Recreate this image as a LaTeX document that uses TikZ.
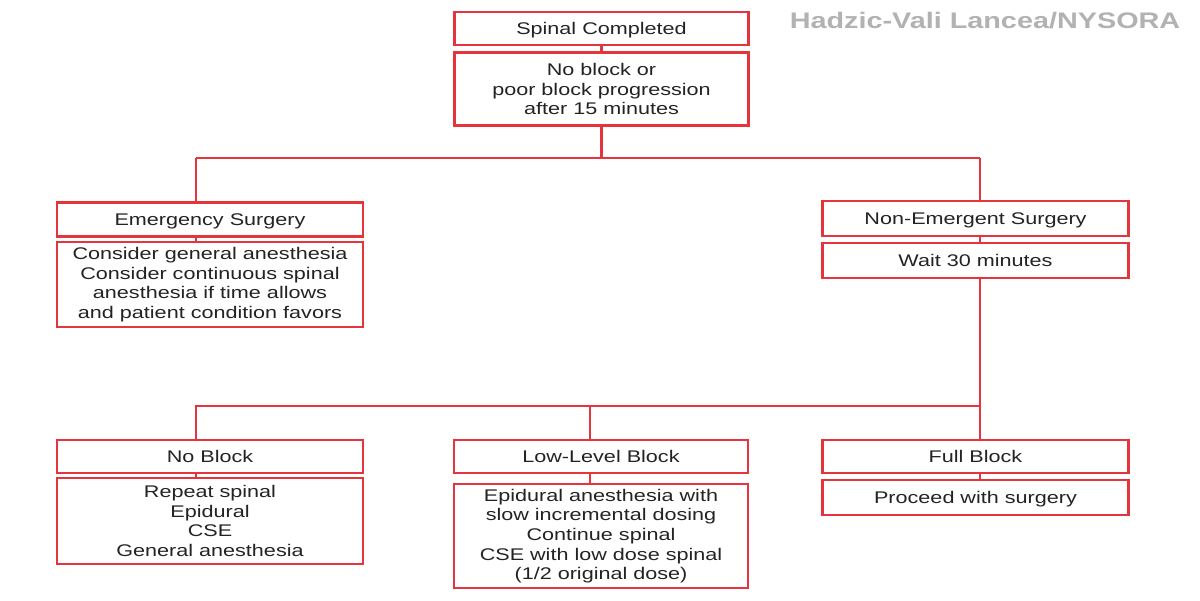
\documentclass[tikz,border=0pt]{standalone}
\usepackage{fontspec}
\setmainfont{Liberation Sans}[FakeStretch=1.28]
\definecolor{boxred}{RGB}{230,52,60}
\definecolor{inkgray}{RGB}{35,35,35}
\tikzset{box/.style={draw=boxred, line width=1.6pt, align=center, inner sep=0pt, text=inkgray, font=\fontsize{12}{14}\selectfont}}
\tikzset{head/.style={box, text depth=0pt}}
\tikzset{wide/.style={minimum width=7.65cm}}
\tikzset{mid/.style={minimum width=7.35cm}}
\tikzset{link/.style={draw=boxred, line width=1.6pt}}

\begin{document}
\begin{tikzpicture}[x=0.025cm,y=-0.025cm]
        \useasboundingbox (0,0) rectangle (1200,600);
        % columns and bars of the tree
        \coordinate (lcol) at (196,0);
        \coordinate (mcol) at (590,0);
        \coordinate (rcol) at (980,0);
        \coordinate (bar1) at (0,158);
        \coordinate (bar2) at (0,406);
        \node[font=\bfseries\fontsize{16}{16}\selectfont, text=black!30] (credit) at (985,21) {Hadzic-Vali Lancea/NYSORA};
        % top
        \node[head, mid, minimum height=0.825cm] (start) at (601.5,28.5) {Spinal Completed};
        \node[box, mid, minimum height=1.825cm] (cond) at (601.5,89) {No block or\\poor block progression\\after 15 minutes};
        % second level
        \node[head, wide, minimum height=0.85cm] (emerg) at (210,219.5) {Emergency Surgery};
        \node[box, wide, minimum height=2.125cm] (emergtxt) at (210,284.5) {Consider general anesthesia\\Consider continuous spinal\\anesthesia if time allows\\and patient condition favors};
        \node[head, wide, minimum height=0.875cm] (nonem) at (975.5,218.5) {Non-Emergent Surgery};
        \node[head, wide, minimum height=0.875cm] (wait) at (975.5,260.5) {Wait 30 minutes};
        % third level
        \node[head, wide, minimum height=0.825cm] (noblk) at (210,456.5) {No Block};
        \node[box, wide, minimum height=2.15cm] (noblktxt) at (210,521) {Repeat spinal\\Epidural\\CSE\\General anesthesia};
        \node[head, mid, minimum height=0.825cm] (lowblk) at (601,456.5) {Low-Level Block};
        \node[box, mid, minimum height=2.6cm] (lowblktxt) at (601,536) {Epidural anesthesia with\\slow incremental dosing\\Continue spinal\\CSE with low dose spinal\\(1/2 original dose)};
        \node[head, wide, minimum height=0.825cm] (fullblk) at (975.5,456.5) {Full Block};
        \node[head, wide, minimum height=0.875cm] (fullblktxt) at (975.5,497.5) {Proceed with surgery};
        % connectors
        \draw[link] (start) -- (cond);
        \draw[link] (cond.south) -- (cond.south |- bar1);
        \draw[link] (bar1 -| lcol) -- (bar1 -| rcol);
        \draw[link] (bar1 -| lcol) -- (emerg.north -| lcol);
        \draw[link] (bar1 -| rcol) -- (nonem.north -| rcol);
        \draw[link] (wait.south -| rcol) -- (bar2 -| rcol) -- (bar2 -| lcol) -- (noblk.north -| lcol);
        \draw[link] (bar2 -| mcol) -- (lowblk.north -| mcol);
        \draw[link] (bar2 -| rcol) -- (fullblk.north -| rcol);
        \foreach \hd/\bd/\col in {emerg/emergtxt/lcol, nonem/wait/rcol, noblk/noblktxt/lcol, lowblk/lowblktxt/mcol, fullblk/fullblktxt/rcol}
          \draw[link] (\hd.south -| \col) -- (\bd.north -| \col);
      \end{tikzpicture}
\end{document}
